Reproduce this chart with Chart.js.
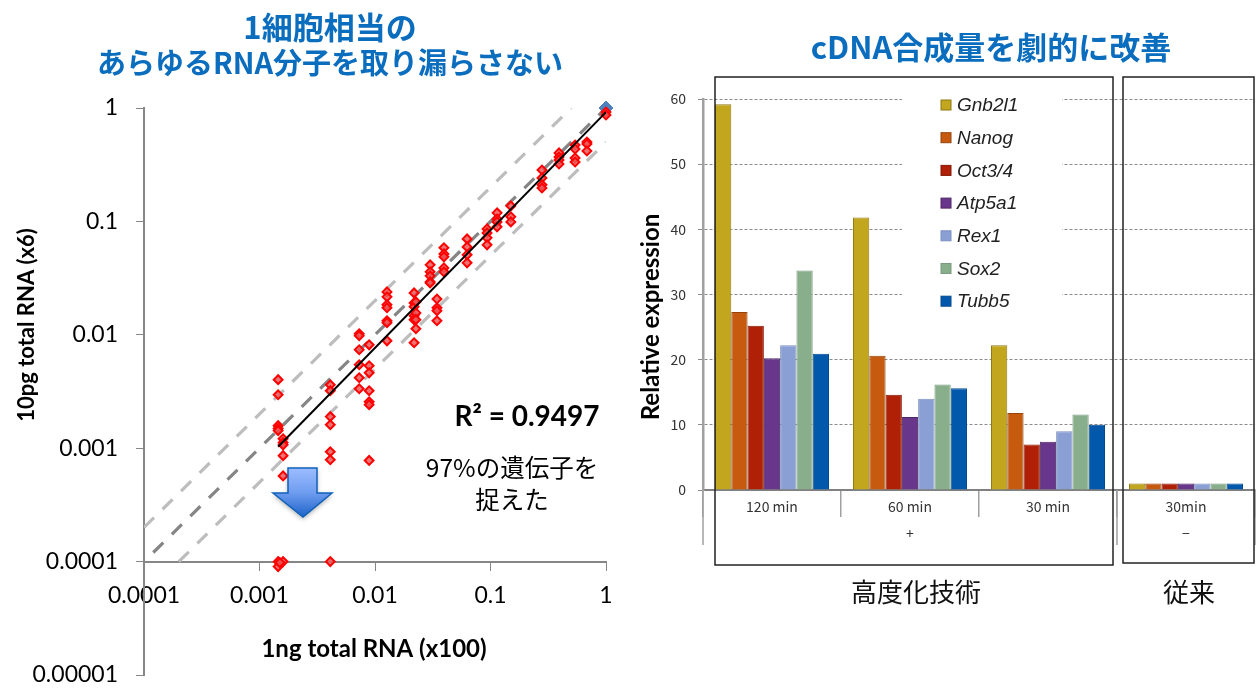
<!DOCTYPE html>
<html><head><meta charset="utf-8">
<script src="https://cdn.jsdelivr.net/npm/chart.js@4"></script>
<style>
html,body{margin:0;padding:0;background:#fff;overflow:hidden}
canvas{position:absolute;top:0}
#left{left:0}#right{left:640px}
</style></head><body>
<canvas id="left" width="640" height="697"></canvas>
<canvas id="right" width="618" height="697"></canvas>
<script>
// ---- left chart data ----
const logXTicks = [0.0001, 0.001, 0.01, 0.1, 1];
const logYTicks = [0.00001, 0.0001, 0.001, 0.01, 0.1, 1];
const geneX = [
 0.00145,0.00145,0.00145,0.00145,0.00145,0.00145,0.00145,
 0.0016,0.0016,0.0016,0.0016,0.0016,0.0016,0.0015,
 0.0041,0.0041,0.0041,0.0041,0.0041,0.0041,0.0041,
 0.0073,0.0073,0.0073,0.0073,0.0073,0.0073,
 0.0089,0.0089,0.0089,0.0089,0.0089,0.0089,0.0089,
 0.0127,0.0127,0.0127,0.0127,0.0127,0.0127,0.0127,
 0.0218,0.0218,0.0218,0.0218,0.0218,0.0218,
 0.0226,0.0226,0.0226,0.0226,
 0.030,0.030,0.030,0.030,0.030,
 0.0344,0.0344,0.0344,0.0344,
 0.0395,0.0395,0.0395,0.0395,0.0395,
 0.0627,0.0627,0.0627,0.0627,
 0.0934,0.0934,0.0934,0.0934,
 0.114,0.114,0.114,0.114,
 0.150,0.150,0.150,
 0.279,0.279,0.279,0.279,
 0.392,0.392,0.392,0.392,
 0.540,0.540,0.540,0.540,
 0.684,0.684,0.684,
 1,1];
const geneY = [
 0.00402,0.00296,0.00158,0.00149,0.00143,0.0001,0.0000904,
 0.00121,0.00112,0.00107,0.00086,0.00057,0.0001,0.000098,
 0.00362,0.00321,0.0019,0.00161,0.00093,0.00079,0.0001,
 0.0102,0.0098,0.00738,0.00544,0.00418,0.00334,
 0.00816,0.00533,0.00462,0.00321,0.00257,0.00242,0.00078,
 0.0239,0.0216,0.0184,0.0173,0.0133,0.0128,0.00885,
 0.0234,0.0191,0.0177,0.0147,0.0136,0.0085,
 0.0195,0.0156,0.0136,0.0113,
 0.0414,0.0359,0.0331,0.0293,0.0287,
 0.0207,0.0173,0.0163,0.0133,
 0.0585,0.0517,0.0487,0.0389,0.0359,
 0.0701,0.0596,0.0507,0.0431,
 0.0859,0.0792,0.0716,0.0621,
 0.119,0.105,0.099,0.0895,
 0.137,0.11,0.099,
 0.284,0.242,0.21,0.197,
 0.402,0.37,0.348,0.321,
 0.472,0.435,0.362,0.334,
 0.501,0.482,0.418,
 0.922,0.867];
const refX = [1];
const refY = [1];
const trendX = [0.00145, 1];
const trendY = [0.00103, 0.92];
const identityX = [0.0001, 1];
const identityY = [0.0001, 1];
const upperX = [0.0001, 0.5];
const upperY = [0.0002, 1];
const lowerX = [0.0002, 1];
const lowerY = [0.0001, 0.5];

// ---- right chart data ----
const timeLabels = [['120 min'], ['60 min','+'], ['30 min'], ['30min','−']];
const yTicksRight = [0,10,20,30,40,50,60];
const geneNames = ['Gnb2l1','Nanog','Oct3/4','Atp5a1','Rex1','Sox2','Tubb5'];
const gnb2l1 = [59.2,41.8,22.2,1];
const nanog  = [27.3,20.6,11.8,1];
const oct34  = [25.2,14.6,7.0,1];
const atp5a1 = [20.2,11.2,7.4,1];
const rex1   = [22.2,14.0,9.0,1];
const sox2   = [33.7,16.2,11.6,1];
const tubb5  = [20.9,15.6,10.0,1];
const geneSeries = [gnb2l1,nanog,oct34,atp5a1,rex1,sox2,tubb5];
const geneFill = ['#c2a71e','#c65b10','#b02006','#68368a','#8a9fd4','#88ae8c','#0259ab'];
const geneEdge = ['#8f7b12','#94440c','#841805','#4e2868','#7c8fc0','#7a9c7e','#024a90'];

const JP = "'Noto Sans CJK JP'";
const BLUE = '#0b6dbd';
function zip(xs,ys){return xs.map((x,i)=>({x,y:ys[i]}));}
function txt(c,s,x,y,font,color,align){c.font=font;c.fillStyle=color;c.textAlign=align||'center';c.textBaseline='middle';c.fillText(s,x,y);}
function vtxt(c,s,x,y,font,color){c.save();c.translate(x,y);c.rotate(-Math.PI/2);txt(c,s,0,0,font,color);c.restore();}

const leftDecor = {id:'leftDecor',afterDraw(ch){
  const c=ch.ctx;c.save();
  txt(c,'1細胞相当の',330,27,"bold 31px "+JP,BLUE);
  txt(c,'あらゆるRNA分子を取り漏らさない',330,63,"bold 29px "+JP,BLUE);
  txt(c,'R² = 0.9497',527,417,"bold 28px Lato,"+JP,'#000');
  txt(c,'97%の遺伝子を',512,468,"24.5px "+JP,'#000');
  txt(c,'捉えた',512,500,"24.5px "+JP,'#000');
  txt(c,'1ng total RNA (x100)',374,649,"bold 24px Lato",'#000');
  vtxt(c,'10pg total RNA (x6)',27,325,"bold 22px Lato",'#000');
  // arrow
  c.save();
  c.shadowColor='rgba(0,0,0,.35)';c.shadowBlur=5;c.shadowOffsetY=2;
  const g=c.createLinearGradient(0,468,0,517);g.addColorStop(0,'#9cbcff');g.addColorStop(.5,'#6f9df0');g.addColorStop(1,'#1e63c8');
  c.fillStyle=g;c.strokeStyle='#0f62b8';c.lineWidth=1.5;
  c.beginPath();c.moveTo(288,468);c.lineTo(317,468);c.lineTo(317,493);c.lineTo(332,493);c.lineTo(303,517);c.lineTo(273,493);c.lineTo(288,493);c.closePath();
  c.fill();c.shadowColor='transparent';c.stroke();
  c.restore();
  c.restore();
}};

new Chart(document.getElementById('left'),{
  type:'scatter',
  data:{datasets:[
    {label:'trend',data:zip(trendX,trendY),showLine:true,pointRadius:0,borderColor:'#000',borderWidth:2,order:1},
    {label:'genes',data:zip(geneX,geneY),pointStyle:'rectRot',pointRadius:4.4,borderWidth:2,pointBorderColor:'#ff0000',pointBackgroundColor:'rgba(232,90,90,0.85)',order:2,clip:false},
    {label:'reference',data:zip(refX,refY),pointStyle:'rectRot',pointRadius:7,pointBorderColor:'#4f81bd',pointBackgroundColor:'#4f81bd',order:3,clip:false},
    {label:'1:1',data:zip(identityX,identityY),showLine:true,pointRadius:0,borderColor:'#858585',borderWidth:3.2,borderDash:[14,12],borderDashOffset:13,order:4},
    {label:'x2',data:zip(upperX,upperY),showLine:true,pointRadius:0,borderColor:'#bdbdbd',borderWidth:3.2,borderDash:[14,12],order:5},
    {label:'/2',data:zip(lowerX,lowerY),showLine:true,pointRadius:0,borderColor:'#bdbdbd',borderWidth:3.2,borderDash:[14,12],order:5}
  ]},
  options:{
    responsive:false,animation:false,devicePixelRatio:1,
    layout:{autoPadding:false,padding:{left:0,right:34,top:108,bottom:22}},
    plugins:{legend:{display:false},tooltip:{enabled:false}},
    scales:{
      x:{type:'logarithmic',position:{y:0.0001},min:0.0001,max:1,
        afterBuildTicks(s){s.ticks=logXTicks.map(value=>({value}));},
        grid:{drawOnChartArea:false,color:'#868686',tickLength:8},
        border:{color:'#868686',width:2},
        ticks:{callback:v=>String(v),font:{family:'Lato',size:23},color:'#000',padding:12,maxRotation:0,autoSkip:false}
      },
      y:{type:'logarithmic',min:0.00001,max:1,
        afterBuildTicks(s){s.ticks=logYTicks.map(value=>({value}));},
        afterFit(s){s.width=144;s.paddingBottom=0;s.paddingTop=0;},
        grid:{drawOnChartArea:false,color:'#868686',tickLength:8},
        border:{color:'#868686',width:2},
        ticks:{callback:v=>String(v),font:{family:'Lato',size:23},color:'#000',padding:18,autoSkip:false}
      }
    }
  },
  plugins:[leftDecor]
});

const rightDecor = {id:'rightDecor',
  beforeDatasetsDraw(ch){ // legend background hides the grid lines
    const c=ch.ctx;c.save();c.fillStyle='#fff';c.fillRect(902-640,92,160,225);c.restore();
  },
  afterDatasetsDraw(ch){
    const c=ch.ctx;c.save();
    // multi-level axis separators
    c.strokeStyle='#a0a0a0';c.lineWidth=1.5;
    const bottom=ch.chartArea.bottom;
    [ch.chartArea.left,(ch.scales.x.getPixelForValue(2)+ch.scales.x.getPixelForValue(3))/2,ch.chartArea.right].forEach(x=>{
      c.beginPath();c.moveTo(x,bottom);c.lineTo(x,545);c.stroke();
    });
    // legend
    geneNames.forEach((n,i)=>{
      const y=105+i*32.7;
      c.fillStyle=geneFill[i];c.strokeStyle=geneEdge[i];c.lineWidth=1;
      c.fillRect(941-640,y-5,10,10);c.strokeRect(941-640,y-5,10,10);
      txt(c,n,957-640,y+1,"italic 19px 'Liberation Sans'",'#222','left');
    });
    // boxes
    c.strokeStyle='#222';c.lineWidth=1.5;
    c.strokeRect(715-640,77,398,488);
    c.strokeRect(1123-640,77,131,486);
    txt(c,'cDNA合成量を劇的に改善',991-640,47,"bold 31px "+JP,BLUE);
    txt(c,'高度化技術',916-640,592,"26px "+JP,'#111');
    txt(c,'従来',1189-640,592,"26px "+JP,'#111');
    vtxt(c,'Relative expression',11,317,"bold 24px Lato",'#000');
    c.restore();
  }
};

new Chart(document.getElementById('right'),{
  type:'bar',
  data:{labels:timeLabels,datasets:geneNames.map((n,i)=>({
    label:n,data:geneSeries[i],backgroundColor:geneFill[i],borderColor:geneEdge[i],borderWidth:1
  }))},
  options:{
    responsive:false,animation:false,devicePixelRatio:1,
    layout:{autoPadding:false,padding:{left:0,right:3,top:99,bottom:0}},
    plugins:{legend:{display:false},tooltip:{enabled:false}},
    datasets:{bar:{categoryPercentage:0.826,barPercentage:1}},
    scales:{
      x:{afterFit(s){s.height=207;},
        grid:{drawOnChartArea:false,color:'#a0a0a0',lineWidth:1.5,tickLength:27},
        border:{color:'#808080',width:2},
        ticks:{font:{family:JP,size:14,lineHeight:1.93},color:'#333',padding:-24,maxRotation:0,autoSkip:false}
      },
      y:{min:0,max:60,
        afterBuildTicks(s){s.ticks=yTicksRight.map(value=>({value}));},
        afterFit(s){s.width=63;},
        grid:{color:'#8c8c8c',lineWidth:1,tickLength:5},
        border:{color:'#a0a0a0',width:2.5,dash:[3,2]},
        ticks:{font:{family:JP,size:14},color:'#333',padding:12}
      }
    }
  },
  plugins:[rightDecor]
});
</script>
</body></html>
